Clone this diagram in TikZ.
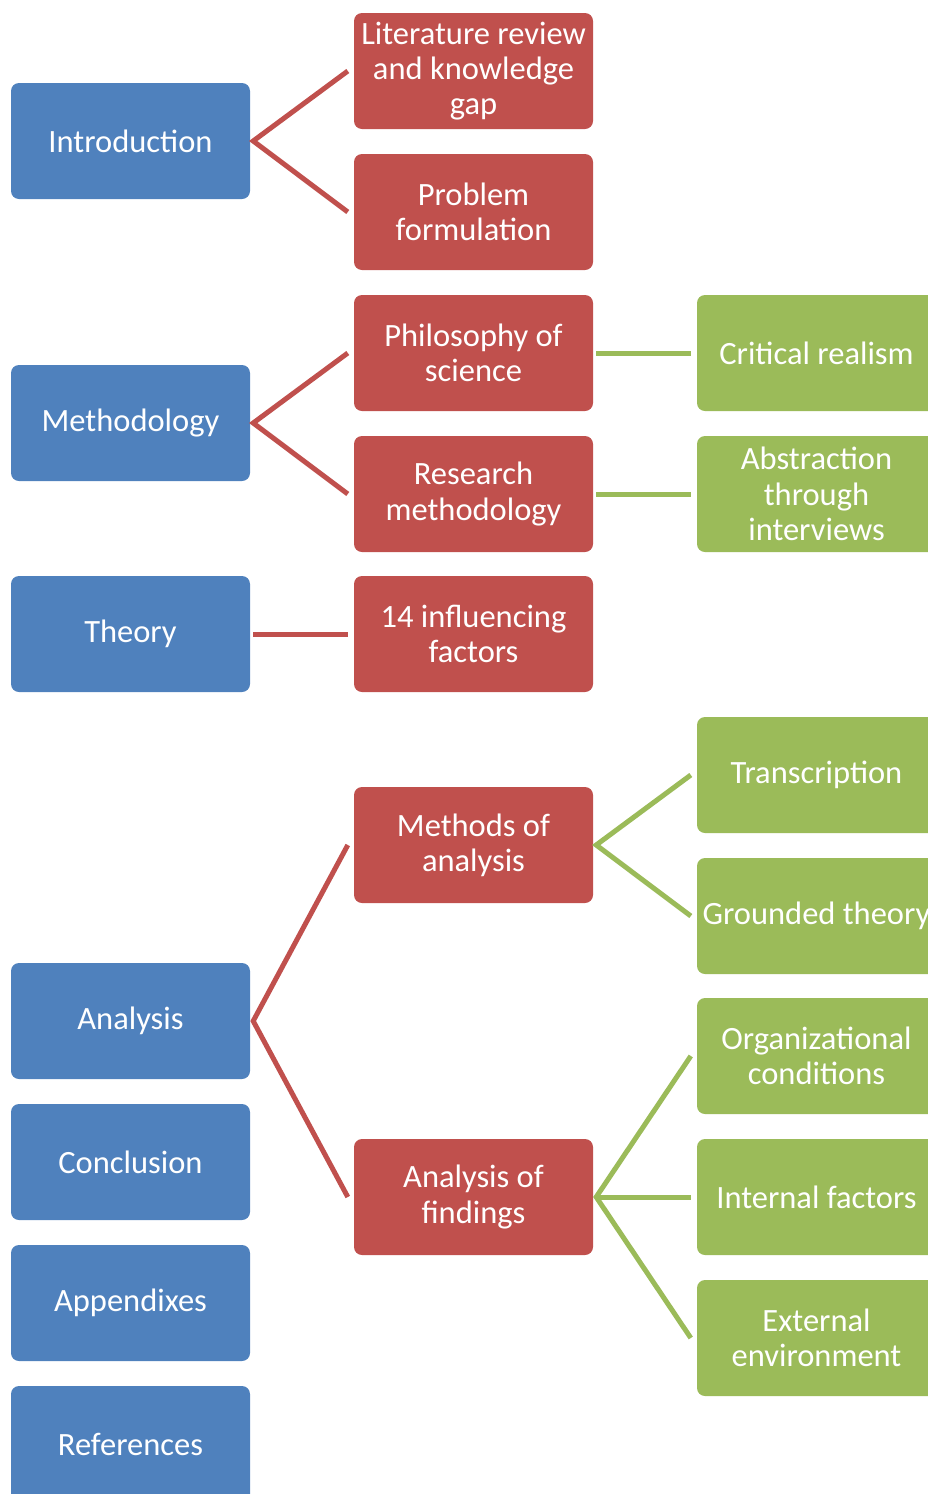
\documentclass[tikz,border=0pt]{standalone}
\usepackage{fontspec}
\setmainfont{Carlito}
\definecolor{boxblue}{HTML}{4F81BD}
\definecolor{boxred}{HTML}{C0504D}
\definecolor{boxgreen}{HTML}{9BBB59}
\begin{document}
\begin{tikzpicture}[x=1pt,y=-1pt,
  card/.style={rectangle, rounded corners=8pt, minimum width=239pt, minimum height=116pt,
    inner sep=0pt, align=center, text=white, font=\fontsize{32.5}{35.2}\selectfont, anchor=center},
  lvlone/.style={card, fill=boxblue},
  lvltwo/.style={card, fill=boxred},
  lvlthree/.style={card, fill=boxgreen},
  redlink/.style={draw=boxred, line width=5pt},
  greenlink/.style={draw=boxgreen, line width=5pt}]
\useasboundingbox (0,0) rectangle (928,1494);
\clip (0,0) rectangle (928,1494);

% first column
\node[lvlone] (intro) at (130.5,141) {Introduction};
\node[lvlone] (meth)  at (130.5,423) {Methodology};
\node[lvlone] (theo)  at (130.5,634) {Theory};
\node[lvlone] (anal)  at (130.5,1021) {Analysis};
\node[lvlone] (concl) at (130.5,1162) {Conclusion};
\node[lvlone] (appx)  at (130.5,1303) {Appendixes};
\node[lvlone] (refs)  at (130.5,1444) {References};

% second column
\node[lvltwo] (lit)   at (473.5,71)  {Literature review\\and knowledge\\gap};
\node[lvltwo] (prob)  at (473.5,212) {Problem\\formulation};
\node[lvltwo] (phil)  at (473.5,353) {Philosophy of\\science};
\node[lvltwo] (rmeth) at (473.5,494) {Research\\methodology};
\node[lvltwo] (infl)  at (473.5,634) {14 influencing\\factors};
\node[lvltwo] (moa)   at (473.5,845) {Methods of\\analysis};
\node[lvltwo] (aof)   at (473.5,1197) {Analysis of\\findings};

% third column
\node[lvlthree] (crit)  at (816.5,353) {Critical realism};
\node[lvlthree] (abst)  at (816.5,494) {Abstraction\\through\\interviews};
\node[lvlthree] (trans) at (816.5,775) {Transcription};
\node[lvlthree] (grnd)  at (816.5,916) {Grounded theory};
\node[lvlthree] (org)   at (816.5,1056) {Organizational\\conditions};
\node[lvlthree] (intf)  at (816.5,1197) {Internal factors};
\node[lvlthree] (ext)   at (816.5,1338) {External\\environment};

% links from the first column
\draw[redlink] ([xshift=-6pt]lit.west) -- ([xshift=3pt]intro.east) -- ([xshift=-6pt]prob.west);
\draw[redlink] ([xshift=-6pt]phil.west) -- ([xshift=3pt]meth.east) -- ([xshift=-6pt]rmeth.west);
\draw[redlink] ([xshift=3pt]theo.east) -- ([xshift=-6pt]infl.west);
\draw[redlink] ([xshift=-6pt]moa.west) -- ([xshift=3pt]anal.east) -- ([xshift=-6pt]aof.west);

% links from the second column
\draw[greenlink] ([xshift=3pt]phil.east) -- ([xshift=-6pt]crit.west);
\draw[greenlink] ([xshift=3pt]rmeth.east) -- ([xshift=-6pt]abst.west);
\draw[greenlink] ([xshift=-6pt]trans.west) -- ([xshift=3pt]moa.east) -- ([xshift=-6pt]grnd.west);
\draw[greenlink] ([xshift=-6pt]org.west) -- ([xshift=3pt]aof.east) -- ([xshift=-6pt]ext.west);
\draw[greenlink] ([xshift=3pt]aof.east) -- ([xshift=-6pt]intf.west);
\end{tikzpicture}
\end{document}
